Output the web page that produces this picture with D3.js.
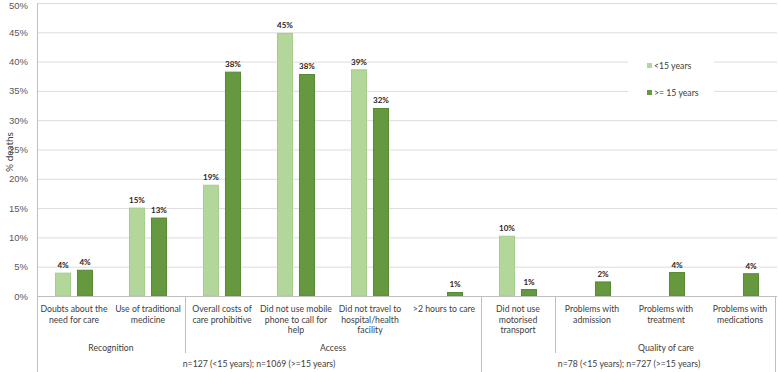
<!DOCTYPE html>
<html>
<head>
<meta charset="utf-8">
<script src="https://cdn.jsdelivr.net/npm/d3@7"></script>
<style>
  body { margin: 0; background: #fff; }
  svg { font-family: Lato, "Open Sans", sans-serif; }
  .grid line { stroke: #dcdcdc; }
  .y-axis text { fill: #595959; font-size: 9.5px; }
  .cat-label { fill: #404040; font-size: 10px; text-anchor: middle; }
  .value-label { fill: #262626; font-size: 8px; font-weight: bold; text-anchor: middle; }
  .sep { stroke: #bfbfbf; stroke-width: 1; }
  .legend-text { fill: #404040; font-size: 10px; }
</style>
</head>
<body>
<div id="chart"></div>
<script>
// categories, one entry per line of the axis label
let categories = [
  ["Doubts about the", "need for care"],
  ["Use of traditional", "medicine"],
  ["Overall costs of", "care prohibitive"],
  ["Did not use mobile", "phone to call for", "help"],
  ["Did not travel to", "hospital/health", "facility"],
  [">2 hours to care"],
  ["Did not use", "motorised", "transport"],
  ["Problems with", "admission"],
  ["Problems with", "treatment"],
  ["Problems with", "medications"]
];
let series = ["<15 years", ">= 15 years"];
// % deaths, null = no bar
let under15 = [3.9, 15.0, 18.9, 44.8, 38.6, null, 10.2, null, null, null];
let over15 = [4.4, 13.3, 38.2, 37.8, 32.0, 0.6, 1.1, 2.4, 4.0, 3.8];

// second level of the axis: group name, first and last category index
let groups = [
  {name: "Recognition", from: 0, to: 1},
  {name: "Access", from: 2, to: 5},
  {name: "", from: 6, to: 6},
  {name: "Quality of care", from: 7, to: 9}
];
// third level: sample sizes
let samples = [
  {name: "n=127 (<15 years); n=1069 (>=15 years)", from: 0, to: 5},
  {name: "n=78 (<15 years); n=727 (>=15 years)", from: 6, to: 9}
];
let yTicks = [0, 5, 10, 15, 20, 25, 30, 35, 40, 45, 50];

let total_width = 778, total_height = 372;
let plot_left = 37, plot_right = 777, plot_top = 3, plot_bottom = 296;
let colors = ["#b3d69b", "#66983f"];
let strokes = ["#a6cd8b", "#578a34"];
let squeeze = 0.87; // Lato is wider than the original font

let svg = d3.select("#chart").append("svg")
    .attr("width", total_width)
    .attr("height", total_height);

// text placed at x,y and narrowed horizontally
function label(parent, x, y, cls){
  return parent.append("g")
      .attr("transform", "translate(" + x + "," + y + ") scale(" + squeeze + ",1)")
    .append("text")
      .attr("class", cls);
}

let keys = categories.map((c, i) => i);
let x0 = d3.scaleBand().domain(keys).range([plot_left, plot_right])
    .paddingInner(0.486).paddingOuter(0.243);
let x1 = d3.scaleBand().domain(series).range([0, x0.bandwidth()]).paddingInner(0.27);
let y = d3.scaleLinear().domain([0, 50]).range([plot_bottom, plot_top]);

// gridlines + tick labels
svg.append("g")
    .attr("class", "grid y-axis")
    .attr("transform", "translate(" + plot_left + ",0)")
    .call(d3.axisLeft(y).tickValues(yTicks).tickSize(-(plot_right - plot_left)).tickPadding(9).tickFormat(d => d + "%"))
    .call(g => g.select(".domain").remove())
    .call(g => g.selectAll(".tick line").filter(d => d === 0).remove())
    .call(g => g.selectAll(".tick text").filter(d => d === 50).attr("dy", "0.55em"));

// y axis title
svg.append("text")
    .attr("transform", "translate(13," + 152 + ") rotate(-90)")
    .attr("text-anchor", "middle")
    .attr("class", "legend-text")
    .text("% deaths");

// bars
let values = [under15, over15];
let bars = svg.append("g");
series.forEach((s, si) => {
  let data = values[si].map((v, i) => ({i: i, v: v})).filter(d => d.v !== null);
  bars.selectAll(".bar-" + si).data(data).enter().append("rect")
      .attr("x", d => x0(d.i) + x1(s) + 0.5)
      .attr("width", x1.bandwidth() - 1)
      .attr("y", d => y(d.v))
      .attr("height", d => y(0) - y(d.v))
      .attr("fill", colors[si])
      .attr("stroke", strokes[si])
      .attr("stroke-width", 1);
  bars.selectAll(".lab-" + si).data(data).enter().append("text")
      .attr("class", "value-label")
      .attr("x", d => x0(d.i) + x1(s) + x1.bandwidth() / 2)
      .attr("y", d => y(d.v) - 5)
      .text(d => Math.round(d.v) + "%");
});

// category axis
let step = x0.step();
let edge = i => x0(i) - (step - x0.bandwidth()) / 2;
let edgeEnd = i => edge(i) + step;

svg.append("line").attr("class", "sep")
    .attr("x1", plot_left).attr("x2", plot_right).attr("y1", plot_bottom + 0.5).attr("y2", plot_bottom + 0.5);
svg.append("line").attr("class", "sep")
    .attr("x1", plot_left + 0.5).attr("x2", plot_left + 0.5).attr("y1", plot_top).attr("y2", total_height);

let catGroup = svg.append("g");
categories.forEach((lines, i) => {
  let t = label(catGroup, x0(i) + x0.bandwidth() / 2, 312, "cat-label");
  t.selectAll("tspan").data(lines).enter().append("tspan")
      .attr("x", 0)
      .attr("y", (d, j) => j * 10.7)
      .text(d => d);
});

// group separators (second level stops above the sample row)
groups.forEach((g, gi) => {
  if (gi > 0) {
    let isSampleEdge = samples.some(s => s.from === g.from);
    svg.append("line").attr("class", "sep")
        .attr("x1", edge(g.from) + 0.5).attr("x2", edge(g.from) + 0.5)
        .attr("y1", plot_bottom).attr("y2", isSampleEdge ? total_height : 353);
  }
  label(svg, (edge(g.from) + edgeEnd(g.to)) / 2, 351, "cat-label").text(g.name);
});
svg.append("line").attr("class", "sep")
    .attr("x1", plot_right - 1.5).attr("x2", plot_right - 1.5)
    .attr("y1", plot_bottom).attr("y2", total_height);

samples.forEach(s => {
  label(svg, (edge(s.from) + edgeEnd(s.to)) / 2, 367, "cat-label").text(s.name);
});

// legend with white box over the grid
let legend = svg.append("g").attr("transform", "translate(628,52)");
legend.append("rect").attr("width", 86).attr("height", 52).attr("fill", "#fff");
series.forEach((s, si) => {
  legend.append("rect")
      .attr("x", 19).attr("y", 11 + si * 27)
      .attr("width", 5).attr("height", 5)
      .attr("fill", colors[si]);
  label(legend, 26, 17 + si * 27, "legend-text").text(s);
});
</script>
</body>
</html>
